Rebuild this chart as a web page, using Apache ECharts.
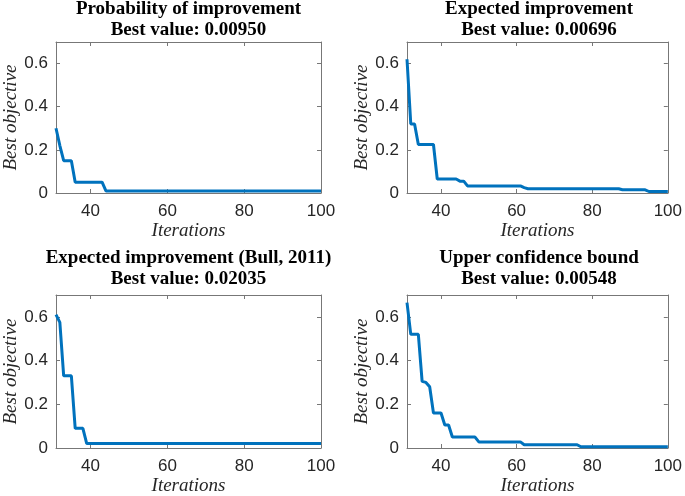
<!DOCTYPE html>
<html>
<head>
<meta charset="utf-8">
<script src="https://cdn.jsdelivr.net/npm/echarts@6/dist/echarts.min.js"></script>
<style>html,body{margin:0;padding:0;background:#fff}#c{width:685px;height:496px}</style>
</head>
<body>
<div id="c"></div>
<script>
// ---- data ----
const titles = [
  "Probability of improvement\nBest value: 0.00950",
  "Expected improvement\nBest value: 0.00696",
  "Expected improvement (Bull, 2011)\nBest value: 0.02035",
  "Upper confidence bound\nBest value: 0.00548"
];
const xTicks = [40, 60, 80, 100];
const yTicks = [0, 0.2, 0.4, 0.6];

const piIter = [31, 32, 33, 35, 36, 43, 44, 100];
const piVal  = [0.30, 0.22, 0.15, 0.15, 0.05, 0.05, 0.0095, 0.0095];

const eiIter = [31, 32, 33, 34, 38, 39, 44, 45, 46, 47, 61, 62, 63, 87, 88, 94, 95, 100];
const eiVal  = [0.62, 0.32, 0.32, 0.225, 0.225, 0.065, 0.065, 0.055, 0.055, 0.033, 0.033, 0.025, 0.02, 0.02, 0.015, 0.015, 0.00696, 0.00696];

const bullIter = [31, 32, 33, 35, 36, 38, 39, 100];
const bullVal  = [0.61, 0.575, 0.33, 0.33, 0.09, 0.09, 0.02035, 0.02035];

const ucbIter = [31, 32, 34, 35, 36, 37, 38, 40, 41, 42, 43, 49, 50, 61, 62, 76, 77, 100];
const ucbVal  = [0.665, 0.52, 0.52, 0.305, 0.30, 0.28, 0.16, 0.16, 0.105, 0.105, 0.05, 0.05, 0.028, 0.028, 0.015, 0.015, 0.00548, 0.00548];

const seriesData = [[piIter, piVal], [eiIter, eiVal], [bullIter, bullVal], [ucbIter, ucbVal]];

// ---- layout ----
const grids = [
  {left: 56, top: 42, width: 265, height: 151},
  {left: 407, top: 42, width: 264, height: 151},
  {left: 56, top: 295, width: 265, height: 154},
  {left: 407, top: 295, width: 264, height: 154}
];
const titleTops = [-1, -1, 248, 248];
const axisColor = '#777';
const labelColor = '#262626';
const sans = 'Liberation Sans, Arial, sans-serif';
const serif = 'Liberation Serif, Times New Roman, serif';

const option = {
  animation: false,
  backgroundColor: '#fff',
  title: grids.map((g, i) => ({
    text: titles[i],
    left: g.left + g.width / 2,
    top: titleTops[i],
    textAlign: 'center',
    padding: 0,
    textStyle: {fontFamily: serif, fontWeight: 'bold', fontSize: 19, lineHeight: 21, color: '#000'}
  })),
  grid: grids.map(g => Object.assign({containLabel: false}, g)),
  xAxis: [],
  yAxis: [],
  series: []
};

grids.forEach((g, i) => {
  const common = {
    gridIndex: i,
    axisLine: {show: true, onZero: false, lineStyle: {color: axisColor, width: 1}},
    axisTick: {show: true, inside: true, length: 4, lineStyle: {color: axisColor}},
    splitLine: {show: false}
  };
  option.xAxis.push(Object.assign({}, common, {
    type: 'value', position: 'bottom', min: 31, max: 100,
    axisTick: Object.assign({}, common.axisTick, {customValues: xTicks}),
    axisLabel: {customValues: xTicks, color: labelColor, fontFamily: sans, fontSize: 17, margin: 10},
    name: 'Iterations', nameLocation: 'middle', nameGap: 28,
    nameTextStyle: {fontFamily: serif, fontStyle: 'italic', fontSize: 19, color: labelColor}
  }));
  option.xAxis.push(Object.assign({}, common, {
    type: 'value', position: 'top', min: 31, max: 100,
    axisTick: Object.assign({}, common.axisTick, {customValues: xTicks}),
    axisLabel: {show: false}
  }));
  option.yAxis.push(Object.assign({}, common, {
    type: 'value', position: 'left', min: 0, max: 0.7,
    axisTick: Object.assign({}, common.axisTick, {customValues: yTicks}),
    axisLabel: {customValues: yTicks, color: labelColor, fontFamily: sans, fontSize: 17, margin: 8},
    name: 'Best objective', nameLocation: 'middle', nameGap: 36,
    nameTextStyle: {fontFamily: serif, fontStyle: 'italic', fontSize: 19, color: labelColor}
  }));
  option.yAxis.push(Object.assign({}, common, {
    type: 'value', position: 'right', min: 0, max: 0.7,
    axisTick: Object.assign({}, common.axisTick, {customValues: yTicks}),
    axisLabel: {show: false}
  }));
  const [it, val] = seriesData[i];
  option.series.push({
    type: 'line',
    xAxisIndex: 2 * i,
    yAxisIndex: 2 * i,
    showSymbol: false,
    symbol: 'none',
    lineStyle: {color: '#0072BD', width: 3},
    data: it.map((x, k) => [x, val[k]])
  });
});

const chart = echarts.init(document.getElementById('c'), null, {renderer: 'canvas'});
chart.setOption(option);
</script>
</body>
</html>
